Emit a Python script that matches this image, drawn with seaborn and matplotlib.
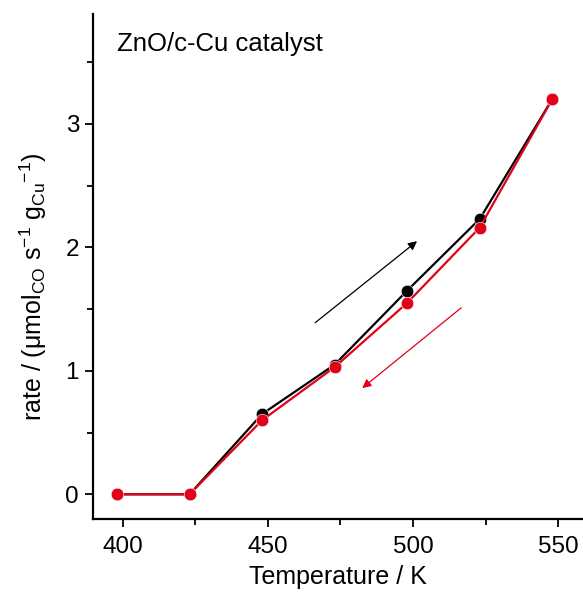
import matplotlib
matplotlib.use("Agg")
import matplotlib.pyplot as plt
import seaborn as sns
import pandas as pd
from matplotlib.ticker import MultipleLocator

# Data
temps_heat = [398, 423, 448, 473, 498, 523, 548]
rate_heat = [0.0, 0.0, 0.65, 1.05, 1.65, 2.23, 3.20]
temps_cool = [548, 523, 498, 473, 448, 423, 398]
rate_cool = [3.20, 2.16, 1.55, 1.03, 0.60, 0.0, 0.0]
x_ticks = [400, 450, 500, 550]
y_ticks = [0, 1, 2, 3]
title_text = "ZnO/c-Cu catalyst"
# Arrow annotations (start, end) in data coordinates
heat_arrow = [(466.3, 1.39), (501.4, 2.05)]
cool_arrow = [(516.6, 1.51), (482.5, 0.86)]

BLACK = "#000000"
RED = "#E2001A"

sns.set_theme(style="ticks")
plt.rcParams['font.family'] = ['Liberation Sans', 'DejaVu Sans']
plt.rcParams['mathtext.fontset'] = 'custom'
plt.rcParams['mathtext.rm'] = 'Liberation Sans'
plt.rcParams['mathtext.it'] = 'Liberation Sans:italic'
plt.rcParams['mathtext.default'] = 'regular'
for k in ['text.color', 'axes.labelcolor', 'xtick.color', 'ytick.color',
          'axes.edgecolor']:
    plt.rcParams[k] = 'black'

fig = plt.figure(figsize=(5.83, 5.94), dpi=100)
ax = fig.add_axes([0.1595, 0.1263, 0.8405, 0.8501])

df_heat = pd.DataFrame({"T": temps_heat, "rate": rate_heat})
df_cool = pd.DataFrame({"T": temps_cool, "rate": rate_cool})

sns.lineplot(data=df_heat, x="T", y="rate", sort=False, ax=ax, color=BLACK,
             lw=1.6, marker="o", markersize=9, markeredgecolor="white",
             markeredgewidth=0.4)
sns.lineplot(data=df_cool, x="T", y="rate", sort=False, ax=ax, color=RED,
             lw=1.6, marker="o", markersize=9, markeredgecolor="white",
             markeredgewidth=0.4)

ax.annotate("", xy=heat_arrow[1], xytext=heat_arrow[0],
            arrowprops=dict(arrowstyle="-|>", color=BLACK, lw=0.9,
                            mutation_scale=13, shrinkA=0, shrinkB=0))
ax.annotate("", xy=cool_arrow[1], xytext=cool_arrow[0],
            arrowprops=dict(arrowstyle="-|>", color=RED, lw=0.9,
                            mutation_scale=13, shrinkA=0, shrinkB=0))

ax.text(0.05, 0.965, title_text, transform=ax.transAxes, fontsize=18.5,
        ha="left", va="top")

ax.set_xlim(389.7, 558.6)
ax.set_ylim(-0.2, 3.89)
ax.set_xticks(x_ticks)
ax.set_yticks(y_ticks)
ax.xaxis.set_minor_locator(MultipleLocator(25))
ax.yaxis.set_minor_locator(MultipleLocator(0.5))
ax.tick_params(axis="both", which="major", direction="out", length=6,
               width=1.3, labelsize=17.5, pad=4)
ax.tick_params(axis="x", which="major", pad=6)
ax.tick_params(axis="both", which="minor", direction="out", length=4,
               width=1.3)

ax.set_xlabel("Temperature / K", fontsize=18, labelpad=5)
ax.set_ylabel(r"rate / ($\mu$mol$_{CO}$ s$^{-1}$ g$_{Cu}$$^{-1}$)",
              fontsize=18)
ax.yaxis.set_label_coords(-0.09, 0.46)

for s in ["top", "right"]:
    ax.spines[s].set_visible(False)
for s in ["left", "bottom"]:
    ax.spines[s].set_linewidth(1.6)

ax.set_facecolor("white")
fig.patch.set_facecolor("white")

fig.savefig("out.png", dpi=100)
